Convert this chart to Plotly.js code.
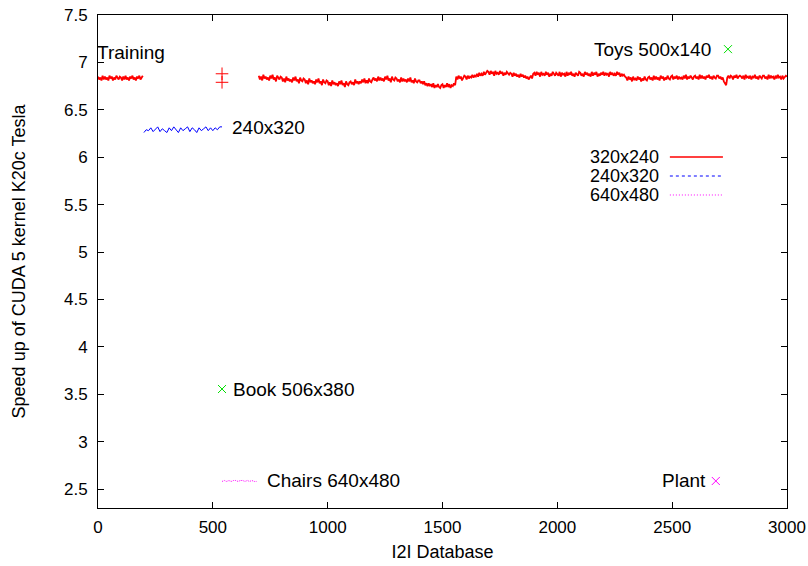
<!DOCTYPE html>
<html>
<head>
<meta charset="utf-8">
<script src="https://cdn.plot.ly/plotly-3.0.1.min.js"></script>
<style>html,body{margin:0;padding:0;background:#fff;}#chart{width:808px;height:566px;}</style>
</head>
<body>
<div id="chart"></div>
<script>
// ---- data ----
// 320x240 series, first segment: x from 0, step 5
var redStep = 5;
var red1Start = 0;
var red1Values = [
6.85,6.82,6.84,6.81,6.86,6.82,6.85,6.82,6.84,6.81,6.86,6.83,6.85,6.81,6.84,6.82,6.86,6.83,6.82,6.85,
6.84,6.81,6.85,6.82,6.86,6.82,6.84,6.81,6.85,6.83,6.86,6.82,6.84,6.81,6.85,6.83,6.86,6.82,6.84,6.86];
// 320x240 series, main segment: x from 700, step 5
var red2Start = 700;
var red2Values = [
6.86,6.82,6.85,6.81,6.87,6.83,6.85,6.82,6.84,6.81,6.86,6.83,6.87,6.82,6.84,6.80,6.86,6.83,6.82,6.85,
6.84,6.80,6.83,6.79,6.85,6.81,6.83,6.80,6.82,6.79,6.84,6.81,6.85,6.80,6.82,6.78,6.84,6.81,6.80,6.83,
6.82,6.78,6.81,6.77,6.83,6.79,6.81,6.78,6.80,6.77,6.82,6.79,6.83,6.78,6.80,6.76,6.82,6.79,6.78,6.81,
6.80,6.76,6.79,6.75,6.81,6.77,6.79,6.76,6.78,6.75,6.80,6.77,6.81,6.76,6.78,6.74,6.80,6.77,6.76,6.79,
6.80,6.77,6.79,6.76,6.82,6.78,6.80,6.77,6.80,6.78,6.82,6.79,6.83,6.78,6.81,6.78,6.83,6.80,6.79,6.82,
6.84,6.81,6.83,6.80,6.85,6.81,6.84,6.81,6.83,6.80,6.85,6.82,6.86,6.81,6.83,6.79,6.85,6.82,6.81,6.84,
6.83,6.80,6.82,6.79,6.84,6.80,6.83,6.80,6.82,6.79,6.83,6.80,6.84,6.79,6.81,6.78,6.83,6.80,6.79,6.81,
6.81,6.78,6.80,6.77,6.80,6.76,6.78,6.75,6.78,6.75,6.77,6.74,6.78,6.73,6.76,6.74,6.77,6.74,6.73,6.76,
6.77,6.73,6.76,6.74,6.78,6.74,6.77,6.73,6.76,6.75,6.78,6.76,6.85,6.82,6.86,6.83,6.85,6.81,6.84,6.86,
6.85,6.82,6.86,6.83,6.85,6.84,6.87,6.84,6.86,6.85,6.88,6.85,6.89,6.86,6.88,6.86,6.90,6.87,6.89,6.91,
6.90,6.87,6.91,6.88,6.90,6.86,6.91,6.88,6.89,6.87,6.91,6.88,6.90,6.86,6.89,6.87,6.90,6.88,6.87,6.89,
6.88,6.85,6.89,6.86,6.88,6.85,6.87,6.84,6.88,6.85,6.87,6.84,6.86,6.83,6.85,6.82,6.84,6.86,6.83,6.88,
6.89,6.86,6.90,6.87,6.89,6.85,6.90,6.87,6.88,6.86,6.90,6.87,6.89,6.85,6.88,6.86,6.90,6.87,6.86,6.89,
6.88,6.86,6.90,6.85,6.89,6.87,6.88,6.85,6.90,6.86,6.89,6.87,6.90,6.86,6.88,6.85,6.89,6.87,6.86,6.90,
6.89,6.86,6.88,6.85,6.90,6.87,6.89,6.86,6.88,6.85,6.90,6.86,6.89,6.87,6.90,6.85,6.88,6.86,6.89,6.87,
6.90,6.86,6.89,6.87,6.88,6.85,6.90,6.87,6.89,6.86,6.88,6.86,6.90,6.87,6.89,6.85,6.88,6.86,6.87,6.85,
6.84,6.81,6.85,6.82,6.84,6.80,6.85,6.82,6.83,6.81,6.85,6.82,6.84,6.80,6.83,6.81,6.85,6.82,6.81,6.84,
6.85,6.82,6.84,6.81,6.86,6.82,6.85,6.82,6.84,6.81,6.86,6.83,6.85,6.81,6.84,6.82,6.86,6.83,6.82,6.85,
6.86,6.82,6.85,6.83,6.86,6.82,6.85,6.83,6.84,6.82,6.86,6.83,6.87,6.82,6.85,6.83,6.86,6.84,6.82,6.85,
6.86,6.83,6.85,6.82,6.87,6.83,6.86,6.83,6.85,6.82,6.86,6.84,6.87,6.83,6.85,6.82,6.86,6.84,6.83,6.86,
6.86,6.83,6.85,6.82,6.84,6.80,6.78,6.76,6.84,6.86,6.83,6.86,6.85,6.82,6.86,6.84,6.87,6.83,6.85,6.86,
6.85,6.83,6.86,6.82,6.87,6.84,6.85,6.83,6.86,6.82,6.85,6.84,6.87,6.83,6.85,6.82,6.86,6.84,6.83,6.86,
6.86,6.83,6.85,6.82,6.87,6.83,6.86,6.84,6.85,6.82,6.86,6.83,6.87,6.84,6.85,6.82,6.86,6.83,6.84,6.86,
6.85];
// 240x320 series: x from 200, step 10
var blueStart = 200, blueStep = 10;
var blueValues = [6.26,6.29,6.28,6.31,6.27,6.30,6.32,6.27,6.30,6.28,6.26,6.31,6.28,6.32,6.29,6.26,6.31,6.28,6.30,6.32,6.27,6.31,6.29,6.26,6.31,6.28,6.30,6.32,6.28,6.31,6.28,6.31,6.29,6.32,6.32];
// 640x480 series (Chairs): x from 540, step 10
var magStart = 540, magStep = 10;
var magValues = [2.58,2.59,2.58,2.59,2.58,2.59,2.59,2.58,2.59,2.59,2.58,2.59,2.58,2.59,2.58,2.58];
// Training points
var trainX = [540, 540];
var trainY = [6.88, 6.79];
// single green points (Toys, Book)
var greenX = [2743, 540];
var greenY = [7.14, 3.555];
// single magenta point (Plant)
var plantX = [2690];
var plantY = [2.585];
// labels
var labelText = ["Training", "240x320", "Toys 500x140", "Book 506x380", "Chairs 640x480", "Plant"];
var labelX = [0, 574, 2679, 578, 726, 2657];
var labelY = [7.10, 6.31, 7.14, 3.555, 2.585, 2.585];
var labelAnchor = ["left", "left", "right", "left", "left", "right"];
// legend entries
var legendNames = ["320x240", "240x320", "640x480"];
var legendColors = ["#ff0000", "#0000ff", "#ff00ff"];
var legendDash = ["solid", "3px,3px", "1px,2px"];
// axes
var xTicks = [0, 500, 1000, 1500, 2000, 2500, 3000];
var yTicks = [2.5, 3, 3.5, 4, 4.5, 5, 5.5, 6, 6.5, 7, 7.5];

// ---- build traces ----
function xs(start, step, n){ var a=[]; for(var i=0;i<n;i++) a.push(start+i*step); return a; }
var redX = xs(red1Start, redStep, red1Values.length).concat([null]).concat(xs(red2Start, redStep, red2Values.length));
var redY = red1Values.concat([null]).concat(red2Values);

var FONT = "Liberation Sans, Arial, Helvetica, sans-serif";
var traces = [
  {x: redX, y: redY, type: "scatter", mode: "lines", line: {color: "#ff0000", width: 1.8}, connectgaps: false},
  {x: xs(blueStart, blueStep, blueValues.length), y: blueValues, type: "scatter", mode: "lines", line: {color: "#0000ff", width: 1}},
  {x: xs(magStart, magStep, magValues.length), y: magValues, type: "scatter", mode: "lines", line: {color: "#ff00ff", width: 1, dash: "1px,1px"}},
  {x: trainX, y: trainY, type: "scatter", mode: "markers", marker: {symbol: "cross-thin-open", size: 9, color: "#ff0000", line: {color: "#ff0000", width: 1}}},
  {x: greenX, y: greenY, type: "scatter", mode: "markers", marker: {symbol: "x-thin-open", size: 8, color: "#00e000", line: {color: "#00e000", width: 1}}},
  {x: plantX, y: plantY, type: "scatter", mode: "markers", marker: {symbol: "x-thin-open", size: 8, color: "#ff00ff", line: {color: "#ff00ff", width: 1}}}
];

var annotations = [];
for (var i = 0; i < labelText.length; i++) {
  annotations.push({x: labelX[i], y: labelY[i], xref: "x", yref: "y", text: labelText[i], showarrow: false,
    xanchor: labelAnchor[i], yanchor: "middle", xshift: i === 0 ? -3 : 0, font: {family: FONT, size: 19, color: "#000"}});
}
var shapes = [];
var legY = [0.712, 0.6734, 0.6349];
for (var j = 0; j < legendNames.length; j++) {
  annotations.push({x: 0.816, y: legY[j], xref: "paper", yref: "paper", text: legendNames[j], showarrow: false,
    xanchor: "right", yanchor: "middle", height: 16, borderpad: 0, font: {family: FONT, size: 18, color: "#000"}});
  shapes.push({type: "line", xref: "paper", yref: "paper", x0: 0.830, x1: 0.907, y0: legY[j], y1: legY[j],
    line: {color: legendColors[j], width: j === 0 ? 1.5 : 1, dash: legendDash[j]}});
}

var axisCommon = {showline: true, linecolor: "#000", linewidth: 1, mirror: "allticks", ticks: "inside", ticklen: 6,
  tickcolor: "#000", tickwidth: 1, showgrid: false, zeroline: false, tickfont: {family: FONT, size: 17, color: "#000"}};

var layout = {
  width: 808, height: 566,
  margin: {l: 98, r: 21, t: 15, b: 58},
  paper_bgcolor: "#fff", plot_bgcolor: "#fff",
  showlegend: false,
  font: {family: FONT, size: 17, color: "#000"},
  xaxis: Object.assign({}, axisCommon, {range: [0, 3000], tickvals: xTicks, ticklabelstandoff: 4,
    title: {text: "I2I Database", font: {family: FONT, size: 18, color: "#000"}, standoff: 8}}),
  yaxis: Object.assign({}, axisCommon, {range: [2.3, 7.5], tickvals: yTicks, ticklabelstandoff: 6,
    title: {text: "Speed up of CUDA 5 kernel K20c Tesla", font: {family: FONT, size: 18, color: "#000"}, standoff: 33}}),
  annotations: annotations,
  shapes: shapes
};

Plotly.newPlot("chart", traces, layout, {staticPlot: true, displayModeBar: false});
</script>
</body>
</html>
